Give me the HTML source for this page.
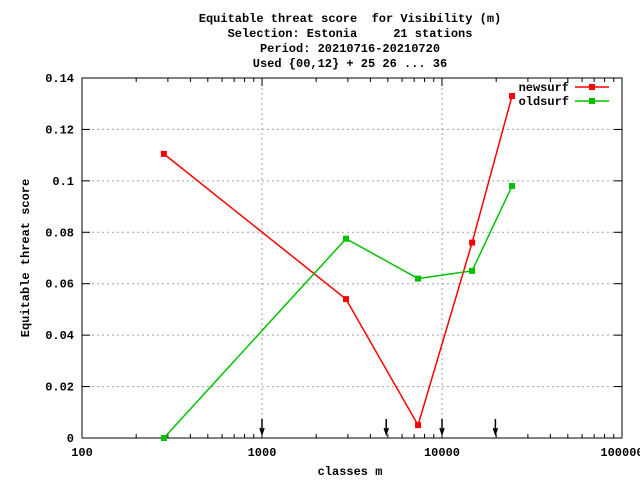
<!DOCTYPE html>
<html><head><meta charset="utf-8">
<style>body{margin:0;background:#fff}svg{display:block;font-family:"Liberation Mono",monospace;font-weight:bold;font-size:12px}text{white-space:pre}</style>
</head><body>
<svg id="c" width="640" height="480"></svg>
<script>
const xCats=[285,2930,7360,14700,24500];
const newsurf=[0.1105,0.054,0.005,0.076,0.133];
const oldsurf=[0.0,0.0775,0.062,0.065,0.098];
const yTicks=[0,0.02,0.04,0.06,0.08,0.1,0.12,0.14];
const yTickLabels=["0","0.02","0.04","0.06","0.08","0.1","0.12","0.14"];
const xTicks=[100,1000,10000,100000];
const xTickLabels=["100","1000","10000","100000"];
const arrowX=[1000,4900,10000,19800];
const L=82,R=622,T=78,B=438;
const X=v=>L+(Math.log10(v)-2)/3*(R-L);
const Y=v=>B-v/0.14*(B-T);
const s=document.getElementById('c');const NS='http://www.w3.org/2000/svg';
function el(t,a,txt){const e=document.createElementNS(NS,t);for(const k in a)e.setAttribute(k,a[k]);if(txt!==undefined)e.textContent=txt;s.appendChild(e);return e;}
const titles=["Equitable threat score  for Visibility (m)","Selection: Estonia     21 stations","Period: 20210716-20210720","Used {00,12} + 25 26 ... 36"];
titles.forEach((t,i)=>{const e=el('text',{x:350,y:22+i*15,'text-anchor':'middle'},t);

});
yTicks.forEach((v,i)=>{const y=Y(v);
if(i>0&&i<yTicks.length-1){const g=el('line',{x1:L,x2:R,y1:y,y2:y,stroke:'#a0a0a0','stroke-dasharray':'2,3'});

}
el('line',{x1:L,x2:L+8,y1:y,y2:y,stroke:'#000'});el('line',{x1:R,x2:R-8,y1:y,y2:y,stroke:'#000'});
const t=el('text',{x:L-8,y:y+4,'text-anchor':'end'},yTickLabels[i]);

});
xTicks.forEach((v,i)=>{const x=X(v);
if(i>0&&i<xTicks.length-1){const g=el('line',{x1:x,x2:x,y1:T,y2:B,stroke:'#a0a0a0','stroke-dasharray':'2,3'});

}
el('line',{x1:x,x2:x,y1:B,y2:B-8,stroke:'#000'});el('line',{x1:x,x2:x,y1:T,y2:T+8,stroke:'#000'});
if(i<3)for(let m=2;m<10;m++){const xm=X(v*m);el('line',{x1:xm,x2:xm,y1:B,y2:B-4,stroke:'#000'});el('line',{x1:xm,x2:xm,y1:T,y2:T+4,stroke:'#000'});}
const t=el('text',{x:x,y:B+18,'text-anchor':'middle'},xTickLabels[i]);

});
const fr=el('rect',{x:L,y:T,width:R-L,height:B-T,fill:'none',stroke:'#000'});


arrowX.forEach(v=>{const x=X(v);
const a=el('path',{d:`M${x} 419V434M${x-2} 428L${x} 434L${x+2} 428`,stroke:'#000',fill:'none','stroke-width':1.5});

});
function series(vals,col,name,ly){
const pts=vals.map((v,i)=>X(xCats[i])+','+Y(v)).join(' ');
const p=el('polyline',{points:pts,fill:'none',stroke:col,'stroke-width':1.5});


vals.forEach((v,i)=>{const r=el('rect',{x:X(xCats[i])-3,y:Y(v)-3,width:6,height:6,fill:col});

});
const t=el('text',{x:569,y:ly+4,'text-anchor':'end'},name);


const l=el('line',{x1:575,x2:609,y1:ly,y2:ly,stroke:col,'stroke-width':1.5});


el('rect',{x:589,y:ly-3,width:6,height:6,fill:col});}
series(newsurf,'#ff0000','newsurf',87);
series(oldsurf,'#00c000','oldsurf',101);
const xl=el('text',{x:350,y:475,'text-anchor':'middle'},'classes m');


const yl=el('text',{x:29,y:258,'text-anchor':'middle',transform:'rotate(-90 29 258)'},'Equitable threat score');


</script>
</body></html>
